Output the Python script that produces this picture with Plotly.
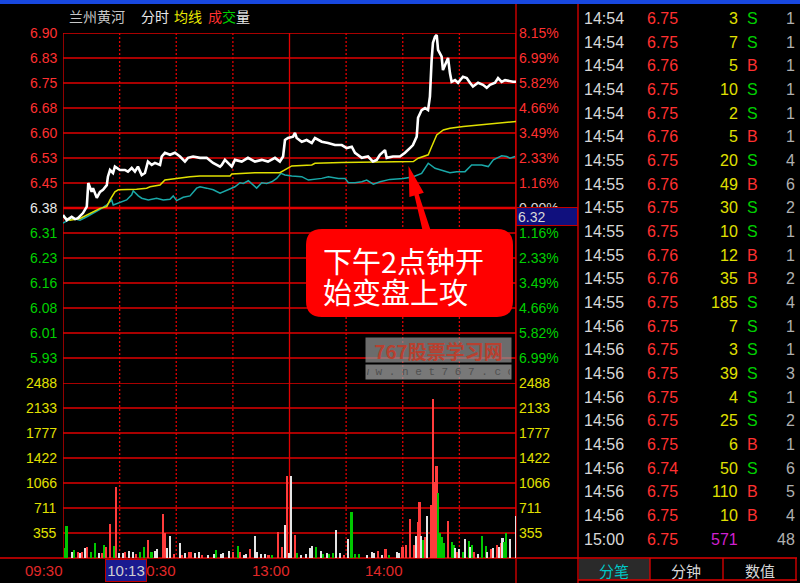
import math
import plotly.graph_objects as go

# ------------------------------------------------------------------ data
prev_close = 6.38
limit_pct = 0.0815  # axis half-range as fraction of previous close

white_min = [0, 2, 4.6, 6.4, 7.9, 10.6, 12.6, 13.4, 15.2, 15.9,
             17.9, 19.6, 21.2, 23.2, 23.8, 24.9, 26.5, 27.5, 30.2, 32.8,
             34.4, 36.4, 38.1, 39.7, 41.7, 43.4, 45, 47, 48.7, 51.4,
             52.3, 54, 56.7, 59.3, 62, 64.6, 66.2, 68.9, 72.6, 76.1,
             79.5, 83.2, 84.1, 85.8, 89.4, 91.1, 94.7, 98, 101.7, 105.3,
             108.6, 112.3, 114.9, 116.6, 117.6, 119.2, 121.9, 122.9, 123.8, 126.5,
             129.1, 131.8, 133.5, 137.1, 140.4, 144.1, 147.7, 150.3, 153, 154.7,
             158.3, 161.6, 164.2, 166.2, 167.9, 170.6, 171.5, 174.8, 178.5, 181.2,
             183.8, 185.4, 187.4, 188.1, 190, 191.8, 193.4, 194.4, 195.3, 196,
             197.1, 198, 198.7, 200.6, 201.3, 203.3, 204, 205, 205.9, 207.7,
             209.3, 211.9, 213.9, 215.6, 217.2, 219.9, 222.5, 224.5, 226.2, 228.9,
             230.5, 232.4, 234.2, 238.4, 240]
white_price = [6.359, 6.344, 6.354, 6.347, 6.350, 6.365, 6.384, 6.454, 6.428, 6.439,
               6.410, 6.428, 6.434, 6.448, 6.473, 6.493, 6.484, 6.503, 6.493, 6.493,
               6.488, 6.499, 6.488, 6.503, 6.478, 6.484, 6.518, 6.508, 6.514, 6.508,
               6.533, 6.544, 6.538, 6.544, 6.533, 6.518, 6.529, 6.533, 6.529, 6.529,
               6.514, 6.503, 6.508, 6.523, 6.503, 6.523, 6.518, 6.529, 6.518, 6.523,
               6.518, 6.529, 6.518, 6.533, 6.582, 6.588, 6.592, 6.603, 6.588, 6.577,
               6.582, 6.573, 6.588, 6.577, 6.573, 6.567, 6.567, 6.558, 6.562, 6.544,
               6.529, 6.533, 6.518, 6.523, 6.538, 6.552, 6.529, 6.533, 6.533, 6.544,
               6.558, 6.567, 6.592, 6.648, 6.671, 6.677, 6.671, 6.711, 6.820, 6.871,
               6.889, 6.894, 6.850, 6.830, 6.790, 6.820, 6.826, 6.781, 6.755, 6.760,
               6.752, 6.770, 6.766, 6.752, 6.741, 6.752, 6.746, 6.737, 6.746, 6.752,
               6.766, 6.755, 6.760, 6.755, 6.755]

avg_min = [0, 3.7, 9, 14.3, 19.6, 23.2, 24.9, 27.5, 29.3, 39,
           44.3, 46.1, 51.4, 54, 60.2, 67.3, 72.6, 88.5, 89.4, 101.7,
           114.9, 117.6, 121.2, 131.8, 133.5, 147.7, 180.3, 185.6, 188.2, 193.5,
           195.3, 198, 201.5, 205, 212.1, 220.9, 229.8, 236.8, 240]
avg_price = [6.354, 6.344, 6.349, 6.364, 6.379, 6.384, 6.404, 6.428, 6.434, 6.436,
             6.439, 6.443, 6.448, 6.463, 6.468, 6.473, 6.475, 6.475, 6.481, 6.485,
             6.485, 6.493, 6.505, 6.508, 6.513, 6.515, 6.516, 6.518, 6.528, 6.538,
             6.562, 6.597, 6.612, 6.617, 6.622, 6.627, 6.632, 6.637, 6.637]

idx_min = [0, 2.8, 5.5, 9, 12.6, 16.1, 19.6, 23.2, 25.8, 26.6,
           30.2, 33.7, 36.4, 37.2, 39.9, 41.7, 45.2, 49.6, 53.1, 56.7,
           58.4, 60.2, 63.7, 67.3, 70.8, 72.6, 76.1, 79.6, 83.2, 87.6,
           91.1, 93.8, 95.5, 98.2, 100.8, 102.6, 105.3, 107.9, 110.6, 113.2,
           115.5, 117.6, 121.2, 126.5, 130, 133.5, 137.1, 140.6, 145.9, 149.4,
           151.2, 154.7, 158.3, 160.9, 164.4, 168, 173.2, 180.3, 185.6, 190,
           193.5, 197.1, 200.6, 205, 208.6, 213, 216.5, 221.8, 225.3, 228,
           232.4, 235.1, 236.8, 239.5]
idx_price = [6.335, 6.344, 6.349, 6.344, 6.354, 6.364, 6.376, 6.389, 6.404, 6.389,
             6.396, 6.404, 6.419, 6.431, 6.416, 6.409, 6.404, 6.409, 6.404, 6.406,
             6.416, 6.402, 6.412, 6.416, 6.439, 6.443, 6.439, 6.434, 6.424, 6.434,
             6.443, 6.455, 6.453, 6.461, 6.448, 6.439, 6.455, 6.453, 6.458, 6.468,
             6.483, 6.478, 6.475, 6.473, 6.463, 6.465, 6.468, 6.473, 6.468, 6.468,
             6.455, 6.455, 6.458, 6.463, 6.451, 6.458, 6.465, 6.468, 6.473, 6.483,
             6.513, 6.498, 6.493, 6.485, 6.488, 6.488, 6.508, 6.508, 6.503, 6.523,
             6.535, 6.533, 6.528, 6.533]

vol_min = [1, 2, 5, 6, 8, 9, 10, 12, 13, 15,
           17, 19, 21, 22, 23, 25, 27, 28, 30, 32,
           33, 35, 37, 39, 41, 43, 45, 47, 49, 50,
           53, 54, 55, 57, 59, 62, 63, 65, 67, 68,
           70, 72, 74, 77, 80, 81, 84, 85, 88, 90,
           93, 94, 96, 97, 99, 102, 103, 105, 107, 109,
           111, 114, 116, 118, 119, 120, 121, 123, 124, 126,
           129, 131, 132, 134, 137, 138, 140, 141, 143, 145,
           147, 149, 151, 153, 155, 157, 161, 164, 165, 167,
           169, 171, 173, 177, 178, 180, 182, 184, 186, 187,
           188, 189, 190, 191, 192, 193, 195, 196, 197, 198,
           199, 200, 201, 202, 204, 206, 207, 208, 209, 210,
           212, 213, 215, 216, 217, 218, 220, 222, 224, 225,
           227, 228, 230, 231, 232, 233, 234, 235, 237, 240]
vol_val = [137, 459, 90, 114, 90, 76, 90, 137, 161, 90,
           218, 76, 66, 180, 161, 483, 170, 1003, 66, 66,
           90, 99, 90, 52, 90, 161, 256, 90, 104, 123,
           625, 350, 137, 312, 52, 218, 43, 66, 90, 90,
           66, 90, 43, 43, 57, 114, 52, 76, 104, 90,
           175, 90, 43, 52, 123, 312, 90, 52, 52, 43,
           43, 364, 161, 464, 1164, 76, 1164, 327, 66, 43,
           52, 137, 175, 161, 99, 57, 66, 52, 66, 398,
           66, 43, 265, 658, 52, 52, 43, 90, 66, 99,
           43, 123, 43, 80, 76, 161, 185, 549, 185, 312,
           506, 791, 312, 256, 303, 601, 753, 2267, 1084, 1311,
           918, 350, 303, 218, 530, 232, 185, 137, 90, 128,
           80, 265, 246, 161, 185, 90, 52, 312, 175, 90,
           128, 137, 185, 161, 208, 289, 232, 360, 270, 597]
vol_dir = list("ggwgrwrwrg" "gwrgrrgrww" "rwwrggrgww" "rrwwrwrwrr"
               "wwrwwgwwwr" "grwwrwwwwr" "grrwrwwrgw" "wwwgwgwggw"
               "wrwgggwwwr" "wrgwwrrrrw" "rrwgrwrrrr" "ggggrggwrw"
               "gwgwgrwggw" "rwrwrwggww")

price_labels = ["6.90", "6.83", "6.75", "6.68", "6.60", "6.53", "6.45",
                "6.38", "6.31", "6.23", "6.16", "6.08", "6.01", "5.93"]
pct_labels = ["8.15%", "6.99%", "5.82%", "4.66%", "3.49%", "2.33%", "1.16%",
              "0.00%", "1.16%", "2.33%", "3.49%", "4.66%", "5.82%", "6.99%"]
vol_labels = ["2488", "2133", "1777", "1422", "1066", "711", "355"]
vol_max = 2488
time_labels = ["09:30", "10:30", "13:00", "14:00"]
time_label_min = [0, 60, 120, 180]
grid_min = [0, 30, 60, 90, 120, 150, 180, 210, 240]
solid_min = [0, 120, 240]
cursor_time = "10:13"
cursor_price = "6.32"

tick_time = ["14:54"] * 6 + ["14:55"] * 7 + ["14:56"] * 9 + ["15:00"]
tick_price = ["6.75", "6.75", "6.76", "6.75", "6.75", "6.76", "6.75", "6.76",
              "6.75", "6.75", "6.76", "6.76", "6.75", "6.75", "6.75", "6.75",
              "6.75", "6.75", "6.75", "6.74", "6.75", "6.75", "6.75"]
tick_vol = [3, 7, 5, 10, 2, 5, 20, 49, 30, 10, 12, 35, 185, 7, 3, 39, 4, 25, 6,
            50, 110, 10, 571]
tick_side = ["S", "S", "B", "S", "S", "B", "S", "B", "S", "S", "B", "B", "S",
             "S", "S", "S", "S", "S", "B", "S", "B", "B", ""]
tick_cnt = [1, 1, 1, 1, 1, 1, 4, 6, 2, 1, 1, 2, 4, 1, 1, 3, 1, 2, 1, 6, 5, 4, 48]

title_parts = [("兰州黄河", "#c8c8c8"), ("分时", "#e8e8e8"), ("均线", "#e8e800"),
               ("成", "#ff3030"), ("交", "#00d000"), ("量", "#e8e8e8")]
tabs = ["分笔", "分钟", "数值"]
callout = ["下午2点钟开", "始变盘上攻"]
watermark = ["767股票学习网", "w w w . n e t 7 6 7 . c o m"]

# ------------------------------------------------------------------ helpers
W, H = 800, 583
def fx(x): return x / W
def fy(y): return 1 - y / H

NUM = "Liberation Sans, Arial, sans-serif"
CJK = "Noto Sans CJK SC, Noto Sans CJK JP, sans-serif"
RED = "#ff3030"
GRN = "#00d000"
YEL = "#e0e000"
GRID = "#e00000"

X0, X1 = 63, 516
YT, YM, YB = 33, 383, 558

step = prev_close * limit_pct / 7
p_lo, p_hi = prev_close - 7 * step, prev_close + 7 * step
price_ticks = [prev_close + k * step for k in range(7, -7, -1)]
vol_step = vol_max / 7
vol_ticks = [vol_max - i * vol_step for i in range(7)]

annotations = []
shapes = []

def txt(x, y, s, color, size=14, anchor="left", family=NUM, xref="paper", yref="paper", **kw):
    annotations.append(dict(
        x=fx(x) if xref == "paper" else x,
        y=fy(y) if yref == "paper" else y,
        xref=xref, yref=yref, text=s, showarrow=False,
        xanchor=anchor, yanchor="middle",
        font=dict(color=color, size=size, family=family), **kw))

def hline(y0, xa, xb, color=GRID, width=1.3, yref="paper"):
    shapes.append(dict(type="line", xref="paper", yref=yref,
                       x0=fx(xa), x1=fx(xb),
                       y0=fy(y0) if yref == "paper" else y0,
                       y1=fy(y0) if yref == "paper" else y0,
                       line=dict(color=color, width=width), layer="below"))

def vline(x, ya, yb, color=GRID, width=1.3, dash="solid", xref="paper"):
    shapes.append(dict(type="line", xref=xref, yref="paper",
                       x0=fx(x) if xref == "paper" else x,
                       x1=fx(x) if xref == "paper" else x,
                       y0=fy(ya), y1=fy(yb),
                       line=dict(color=color, width=width, dash=dash), layer="below"))

def P(x, y):
    return f"{fx(x):.5f},{fy(y):.5f}"

# ------------------------------------------------------------------ figure
fig = go.Figure()

col_map = {"r": "#ff3c3c", "g": "#00c800", "w": "#e4e4e4"}
fig.add_trace(go.Bar(x=vol_min, y=vol_val, yaxis="y2",
                     marker=dict(color=[col_map[c] for c in vol_dir], line=dict(width=0)),
                     width=0.85, hoverinfo="skip"))
fig.add_trace(go.Scatter(x=idx_min, y=idx_price, mode="lines",
                         line=dict(color="#1aa8a8", width=1.5), hoverinfo="skip"))
fig.add_trace(go.Scatter(x=avg_min, y=avg_price, mode="lines",
                         line=dict(color="#e0e000", width=1.5), hoverinfo="skip"))
fig.add_trace(go.Scatter(x=white_min, y=white_price, mode="lines",
                         line=dict(color="#ffffff", width=2.6), hoverinfo="skip"))

# ---- frame / grid
shapes.append(dict(type="rect", xref="paper", yref="paper", x0=0, x1=1,
                   y0=fy(4), y1=fy(0), fillcolor="#1848e0", line=dict(width=0),
                   layer="below"))
for i, t in enumerate(price_ticks):
    hline(t, X0, X1, width=2.4 if i == 7 else 1.3, yref="y")
hline(prev_close, X1, 578, yref="y")
for t in vol_ticks:
    hline(t, X0, X1, yref="y2")
hline(YB, 0, 797)
for m in grid_min:
    if m in solid_min:
        vline(m, YT, YB, xref="x")
    else:
        vline(m, YT, YB, dash="2px,2px", xref="x")
vline(X1, 4, 583)
vline(578, 4, 583)
# tabs
shapes.append(dict(type="rect", xref="paper", yref="paper", x0=fx(579), x1=fx(650),
                   y0=fy(580), y1=fy(559), fillcolor="#2a2a2a", line=dict(width=0),
                   layer="below"))
hline(580, 578, 797)
for xv in (650, 723, 796):
    vline(xv, YB, 580)

# ---- axis labels
for i, lab in enumerate(price_labels):
    c = RED if i < 7 else ("#e8e8e8" if i == 7 else GRN)
    txt(59, price_ticks[i], lab, c, 14, "right", yref="y")
for i, lab in enumerate(pct_labels):
    c = RED if i < 7 else ("#d8d8d8" if i == 7 else GRN)
    txt(517, price_ticks[i], lab, c, 14, "left", yref="y")
for i, lab in enumerate(vol_labels):
    txt(59, vol_ticks[i], lab, YEL, 14, "right", yref="y2")
    txt(517, vol_ticks[i], lab, YEL, 14, "left", yref="y2")
for m, lab in zip(time_label_min, time_labels):
    annotations.append(dict(x=m, y=fy(570), xref="x", yref="paper", text=lab,
                            showarrow=False, xanchor="right", yanchor="middle",
                            xshift=2,
                            font=dict(color="#e02828", size=15, family=NUM)))
# cursor boxes
annotations.append(dict(x=fx(126.5), y=fy(570), xref="paper", yref="paper",
                        text=cursor_time, showarrow=False, xanchor="center",
                        yanchor="middle", width=38, height=19, bgcolor="#1a1a90",
                        bordercolor="#c00000", borderwidth=1,
                        font=dict(color="#d0d0d0", size=15, family=NUM)))
annotations.append(dict(x=fx(516), y=fy(217), xref="paper", yref="paper",
                        text=cursor_price, showarrow=False, xanchor="left",
                        yanchor="middle", width=58, height=15, bgcolor="#10107e",
                        bordercolor="#c00000", borderwidth=1, align="left",
                        font=dict(color="#d8d8d8", size=14, family=NUM)))

# ---- title
tx = [67, 139, 172, 206, 220, 234]
for (s, c), x in zip(title_parts, tx):
    txt(x, 16, s, c, 14, "left", family=CJK)

# ---- tick table
row0, dy = 18.5, 23.67
for i in range(len(tick_time)):
    y = row0 + i * dy
    txt(582, y, tick_time[i], "#d8d8d8", 16, "left")
    txt(645, y, tick_price[i], RED, 16, "left")
    vc = "#d020d0" if tick_side[i] == "" else YEL
    txt(740, y, str(tick_vol[i]), vc, 16, "right")
    if tick_side[i]:
        txt(745, y, tick_side[i], GRN if tick_side[i] == "S" else RED, 16, "left")
    txt(797, y, str(tick_cnt[i]), "#b0b0b0", 16, "right")
tab_x = [614, 686, 760]
tab_c = ["#00c8c8", "#d8d8d8", "#d8d8d8"]
for s, x, c in zip(tabs, tab_x, tab_c):
    txt(x, 570, s, c, 15, "center", family=CJK)

# ---- callout
bx0, by0, bx1, by1, r = 306, 229, 513, 317, 16
path = ("M " + P(bx0 + r, by0) + " L " + P(bx1 - r, by0) + " Q " + P(bx1, by0) + " " + P(bx1, by0 + r) +
        " L " + P(bx1, by1 - r) + " Q " + P(bx1, by1) + " " + P(bx1 - r, by1) +
        " L " + P(bx0 + r, by1) + " Q " + P(bx0, by1) + " " + P(bx0, by1 - r) +
        " L " + P(bx0, by0 + r) + " Q " + P(bx0, by0) + " " + P(bx0 + r, by0) + " Z")
shapes.append(dict(type="path", xref="paper", yref="paper", path=path,
                   fillcolor="#ff0000", line=dict(width=0), layer="above"))
# arrow wedge
tipx, tipy, basex, basey = 408.5, 166, 427, 232
dx, dy_ = tipx - basex, tipy - basey
L = math.hypot(dx, dy_)
ux, uy = dx / L, dy_ / L
nx, ny = -uy, ux
hl, hw, sw1, sw0 = 30, 7.5, 2.2, 4
hbx, hby = tipx - hl * ux, tipy - hl * uy
pts = [(tipx, tipy), (hbx + hw * nx, hby + hw * ny), (hbx + sw1 * nx, hby + sw1 * ny),
       (basex + sw0 * nx, basey + sw0 * ny), (basex - sw0 * nx, basey - sw0 * ny),
       (hbx - sw1 * nx, hby - sw1 * ny), (hbx - hw * nx, hby - hw * ny)]
apath = "M " + " L ".join(P(a, b) for a, b in pts) + " Z"
shapes.append(dict(type="path", xref="paper", yref="paper", path=apath,
                   fillcolor="#ff0000", line=dict(width=0), layer="above"))
txt(321, 260, callout[0], "#ffffff", 29, "left", family=CJK)
txt(321, 291, callout[1], "#ffffff", 29, "left", family=CJK)

# ---- watermark
annotations.append(dict(x=fx(439), y=fy(350), xref="paper", yref="paper",
                        text="<b>" + watermark[0] + "</b>", showarrow=False,
                        xanchor="center", yanchor="middle", width=143, height=22,
                        bgcolor="rgba(150,150,150,0.72)",
                        font=dict(color="#b84030", size=19, family=CJK)))
annotations.append(dict(x=fx(439), y=fy(372), xref="paper", yref="paper",
                        text=watermark[1], showarrow=False,
                        xanchor="center", yanchor="middle", width=143, height=12,
                        bgcolor="rgba(160,160,160,0.75)",
                        font=dict(color="#505050", size=11, family="Liberation Mono, monospace")))

fig.update_layout(
    width=W, height=H, margin=dict(l=0, r=0, t=0, b=0),
    paper_bgcolor="#000000", plot_bgcolor="rgba(0,0,0,0)", showlegend=False,
    xaxis=dict(domain=[fx(X0), fx(X1)], range=[0, 240], visible=False, fixedrange=True),
    yaxis=dict(domain=[fy(YM), fy(YT)], range=[p_lo, p_hi], visible=False),
    yaxis2=dict(domain=[fy(YB), fy(YM)], range=[0, vol_max], visible=False, anchor="x"),
    shapes=shapes, annotations=annotations, bargap=0,
)
fig.write_html("out.html", config={"displayModeBar": False},
               post_script="document.body.style.margin='0';document.body.style.background='#000';")
